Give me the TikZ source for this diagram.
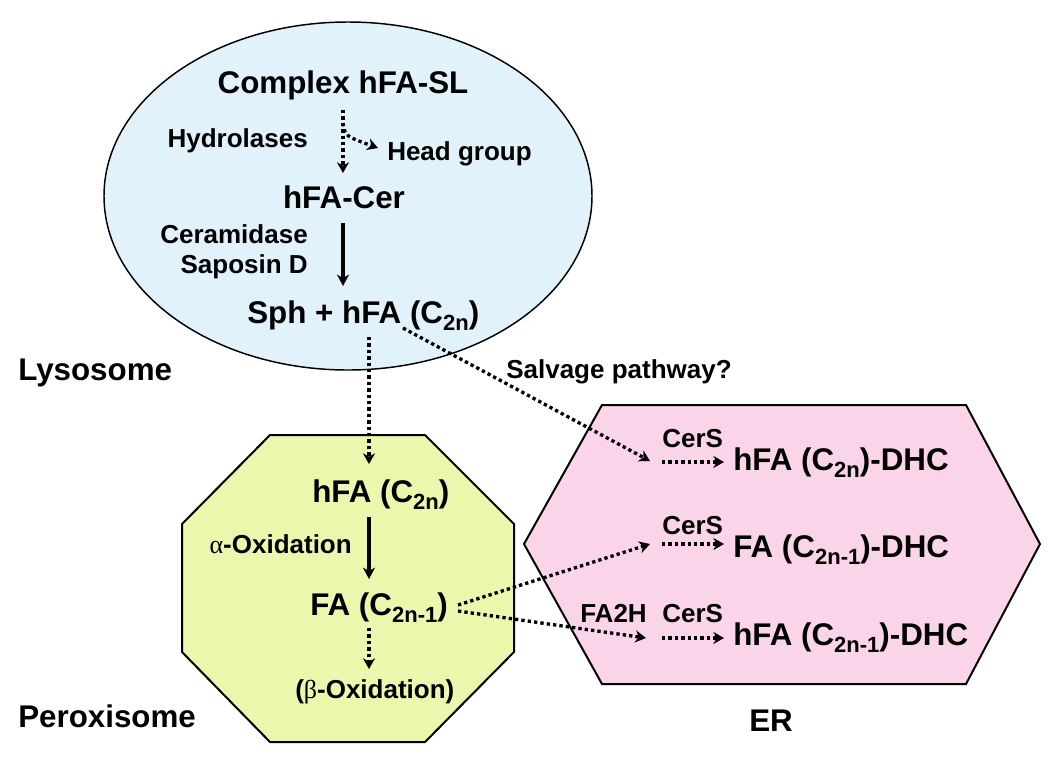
\documentclass[tikz,border=0pt]{standalone}
\usepackage{fontspec}
\setmainfont{Liberation Sans}
\newfontfamily\greekserif{Liberation Serif}
\usetikzlibrary{arrows.meta}
\definecolor{lysofill}{RGB}{226,242,250}
\definecolor{perofill}{RGB}{234,247,172}
\definecolor{erfill}{RGB}{250,212,232}
\newcommand{\sbs}[1]{\raisebox{-5.3pt}{\fontsize{16.5pt}{18pt}\selectfont #1}}
\begin{document}
\begin{tikzpicture}[x=0.75pt,y=-0.75pt,
  main/.style={font=\fontsize{23.5pt}{26pt}\selectfont\bfseries, inner sep=0pt},
  lab/.style={font=\fontsize{19.5pt}{22pt}\selectfont\bfseries, inner sep=0pt},
  dotarr/.style={line width=2.5pt, dash pattern=on 2.5pt off 2.3pt, -{Stealth[length=8pt,width=9pt,inset=2.5pt]}},
  solarr/.style={line width=2.3pt, -{Stealth[length=8.5pt,width=9pt,inset=2.5pt]}},
  organelle/.style={line width=1.5pt, line join=miter}]
\path[use as bounding box] (0,0) rectangle (1050,765);

% compartments
\draw[fill=lysofill, line width=1.1pt] (348,196) ellipse [x radius=183pt, y radius=130.5pt];
\draw[organelle, fill=perofill] (270,435) -- (425,435) -- (514,524) -- (514,652) -- (425,742) -- (270,742) -- (182,652) -- (182,524) -- cycle;
\draw[organelle, fill=erfill] (602,405) -- (966,405) -- (1040,544) -- (966,684) -- (602,684) -- (524,544) -- cycle;

% texts
\node[main, anchor=base] (cx) at (343,93.5) {Complex hFA-SL};
\node[lab, anchor=base east] (hyd) at (308,147) {Hydrolases};
\node[lab, anchor=base west] (head) at (387,160) {Head group};
\node[main, anchor=base] (cer) at (344,208) {hFA-Cer};
\node[lab, anchor=base east] (ceram) at (308,243) {Ceramidase};
\node[lab, anchor=base east] (sap) at (308,273) {Saposin D};
\node[main, anchor=base west] (sph) at (247,323) {Sph + hFA (C\sbs{2n})};
\node[main, anchor=base west] (lys) at (18,380) {Lysosome};
\node[lab, anchor=base west] (salv) at (506,378) {Salvage pathway?};
\node[main, anchor=base west] (hfa) at (312,502) {hFA (C\sbs{2n})};
\node[lab, anchor=base east] (alpha) at (352,553) {{\greekserif\mdseries α}-Oxidation};
\node[main, anchor=base west] (fa) at (310,615) {FA (C\sbs{2n-1})};
\node[lab, anchor=base west] (beta) at (295,698) {({\greekserif\mdseries β}-Oxidation)};
\node[main, anchor=base west] (pero) at (18,727) {Peroxisome};
\node[main, anchor=base west] (er) at (749,731) {ER};
\node[lab, anchor=base west] (cers1) at (662,447) {CerS};
\node[main, anchor=base west] (dhc1) at (733,470) {hFA (C\sbs{2n})-DHC};
\node[lab, anchor=base west] (cers2) at (662,534) {CerS};
\node[main, anchor=base west] (dhc2) at (733,557) {FA (C\sbs{2n-1})-DHC};
\node[lab, anchor=base west] (fa2h) at (580,622) {FA2H};
\node[lab, anchor=base west] (cers3) at (662,622) {CerS};
\node[main, anchor=base west] (dhc3) at (733,645) {hFA (C\sbs{2n-1})-DHC};

% connector end points
\coordinate (cxS) at (343,110);
\coordinate (cxB) at (343,123);
\coordinate (cerN) at (343,173);
\coordinate (headW) at (378,148);
\coordinate (cerS) at (343,223);
\coordinate (sphN) at (343,286);
\coordinate (sphS) at (369,337);
\coordinate (sphE) at (403,328);
\coordinate (hfaN) at (369,464);
\coordinate (hfaS) at (369,517);
\coordinate (faN) at (369,579);
\coordinate (faS) at (369,628);
\coordinate (betaN) at (369,669);
\coordinate (faE1) at (458,605);
\coordinate (faE2) at (458,611);
\coordinate (in1) at (650,461);
\coordinate (in2) at (650,544);
\coordinate (in3) at (646,638);
\coordinate (r1a) at (662,462); \coordinate (r1b) at (724,462);
\coordinate (r2a) at (662,544); \coordinate (r2b) at (724,544);
\coordinate (r3a) at (662,638); \coordinate (r3b) at (724,638);

% connectors
\draw[dotarr] (cxS) -- (cerN);
\draw[dotarr] (cxB) .. controls (345,136) .. (headW);
\draw[solarr] (cerS) -- (sphN);
\draw[dotarr] (sphS) -- (hfaN);
\draw[dotarr] (sphE) -- (in1);
\draw[solarr] (hfaS) -- (faN);
\draw[dotarr] (faS) -- (betaN);
\draw[dotarr] (faE1) -- (in2);
\draw[dotarr] (faE2) -- (in3);
\draw[dotarr] (r1a) -- (r1b);
\draw[dotarr] (r2a) -- (r2b);
\draw[dotarr] (r3a) -- (r3b);
\end{tikzpicture}
\end{document}
